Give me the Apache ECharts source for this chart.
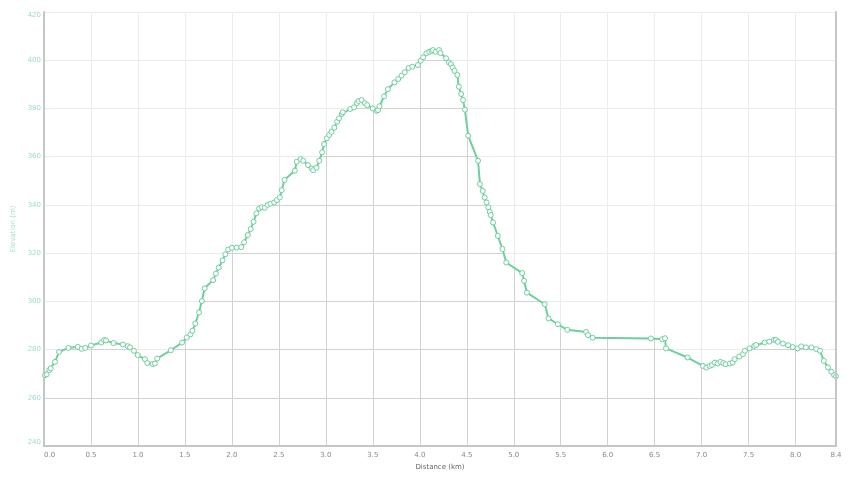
<!DOCTYPE html>
<html><head><meta charset="utf-8">
<script src="https://cdn.jsdelivr.net/npm/echarts@6/dist/echarts.min.js"></script>
<style>html,body{margin:0;padding:0;background:#fff}#c{width:855px;height:487px}</style>
</head><body><div id="c"></div>
<script>
const distanceKm = [0.011,0.028,0.056,0.071,0.117,0.16,0.26,0.36,0.40,0.44,0.50,0.61,0.64,0.66,0.74,0.84,0.89,0.915,0.957,0.997,1.074,1.10,1.156,1.18,1.205,1.35,1.47,1.52,1.56,1.58,1.61,1.65,1.68,1.71,1.80,1.83,1.86,1.90,1.93,1.96,2.00,2.05,2.10,2.13,2.17,2.20,2.23,2.26,2.29,2.32,2.35,2.38,2.41,2.45,2.48,2.51,2.53,2.56,2.67,2.69,2.73,2.76,2.81,2.85,2.865,2.90,2.93,2.96,2.98,3.01,3.035,3.06,3.09,3.12,3.14,3.17,3.18,3.26,3.30,3.33,3.35,3.38,3.415,3.44,3.50,3.54,3.555,3.57,3.62,3.66,3.73,3.77,3.805,3.84,3.88,3.92,3.98,4.01,4.035,4.07,4.10,4.125,4.14,4.17,4.205,4.22,4.28,4.31,4.33,4.35,4.37,4.40,4.415,4.44,4.46,4.48,4.515,4.62,4.64,4.67,4.69,4.71,4.73,4.745,4.755,4.78,4.83,4.88,4.92,5.09,5.11,5.14,5.33,5.37,5.47,5.57,5.77,5.79,5.84,6.46,6.58,6.61,6.62,6.85,7.014,7.05,7.085,7.11,7.14,7.17,7.20,7.23,7.255,7.30,7.33,7.35,7.40,7.44,7.46,7.51,7.56,7.58,7.67,7.72,7.77,7.79,7.81,7.865,7.92,7.97,8.02,8.06,8.11,8.17,8.22,8.26,8.30,8.345,8.38,8.41,8.43];
const elevationM = [269.4,269.7,271.5,272.2,274.9,279,280.7,281.1,280.3,280.7,281.7,282.9,283.9,283.8,282.7,282.1,281.4,280.9,279.5,277.7,276,274.4,274,274.2,276.3,279.7,282.9,285,286.3,287.8,290.8,295.4,300.1,305.4,308.8,311.5,314,317,319.5,321.5,322.2,322.3,322.5,324.5,327.5,330,333,336.5,338.5,339,338.8,340,340.5,341,342,343.1,346.1,350.4,354.2,357.9,359,358.3,356.5,355.1,354.4,355.4,358.3,361.8,365.2,367.6,369,370.3,372,374.5,375.9,377.7,378.4,379.8,380.5,382.2,383.1,383.5,382.2,381.4,380,379,379.3,380.9,385,388,390.8,392.2,393.6,395,396.8,397.3,398,399.8,401.2,402.9,403.5,403.8,404.2,403.5,404.2,403,400.8,399.1,398.4,397,395.6,393.9,389,386,383.5,379.5,368.7,358.3,348.6,345.8,343.1,341,339,337.1,335.8,332.7,327.2,321.7,316.1,311.7,308.5,303.6,298.8,292.9,290.5,288.2,287.3,286,284.9,284.6,284.3,284.7,280.5,276.7,273.2,272.5,273.2,273.6,274.6,274.2,274.9,274.4,273.9,274.2,274.6,276,277.1,278.1,279.5,280.5,281.5,281.9,282.9,283.3,284,284,283.2,282.5,281.8,281,280.5,281.3,280.9,280.9,280.2,279.5,275.3,272.6,270.8,269.4,268.9];
const xTitle = 'Distance (km)';
const yTitle = 'Elevation (m)';
const xMin = 0, xMax = 8.43, xStep = 0.5;
const yMin = 240, yMax = 420, yStep = 20;

const points = distanceKm.map((d, i) => [d, elevationM[i]]);
const FONT = 'DejaVu Sans';
const chart = echarts.init(document.getElementById('c'), null, {renderer: 'canvas'});
chart.setOption({
  animation: false,
  backgroundColor: '#ffffff',
  grid: {left: 44, right: 19, top: 12, bottom: 41, containLabel: false},
  xAxis: {
    type: 'value', min: xMin, max: xMax, interval: xStep,
    name: xTitle, nameLocation: 'middle', nameGap: 17,
    nameTextStyle: {color: '#666', fontSize: 7, fontFamily: FONT},
    axisLine: {show: true, lineStyle: {color: '#c6c6c6', width: 2}},
    axisTick: {show: false},
    axisLabel: {color: '#888', fontSize: 7, fontFamily: FONT, margin: 6,
      formatter: v => v.toFixed(1), alignMinLabel: 'left'},
    splitLine: {show: true, lineStyle: {color: '#d2d2d2', width: 1}}
  },
  yAxis: [{
    type: 'value', min: yMin, max: yMax, interval: yStep,
    name: yTitle, nameLocation: 'middle', nameGap: 24, nameRotate: 90,
    nameTextStyle: {color: '#a6dfc3', fontSize: 7, fontFamily: FONT},
    axisLine: {show: true, lineStyle: {color: '#c6c6c6', width: 2}},
    axisTick: {show: false},
    axisLabel: {color: '#9fdcbf', fontSize: 7, fontFamily: FONT, margin: 3,
      verticalAlignMaxLabel: 'top', verticalAlignMinLabel: 'bottom'},
    splitLine: {show: true, lineStyle: {color: '#d2d2d2', width: 1}}
  }, {
    type: 'value', min: yMin, max: yMax, interval: yStep, position: 'right', z: 5,
    axisLine: {show: true, lineStyle: {color: '#c6c6c6', width: 2}},
    axisTick: {show: false}, axisLabel: {show: false}, splitLine: {show: false}
  }],
  series: [{
    type: 'line', data: points, silent: true, z: 1,
    symbol: 'none', lineStyle: {width: 0, opacity: 0},
    areaStyle: {origin: 'end', color: 'rgba(255,255,255,0.84)'}
  }, {
    type: 'line', data: points, z: 3,
    symbol: 'circle', symbolSize: 5, showAllSymbol: true,
    lineStyle: {color: '#6fcf9f', width: 2},
    itemStyle: {color: '#ffffff', borderColor: '#6fcf9f', borderWidth: 1}
  }]
});
</script></body></html>
